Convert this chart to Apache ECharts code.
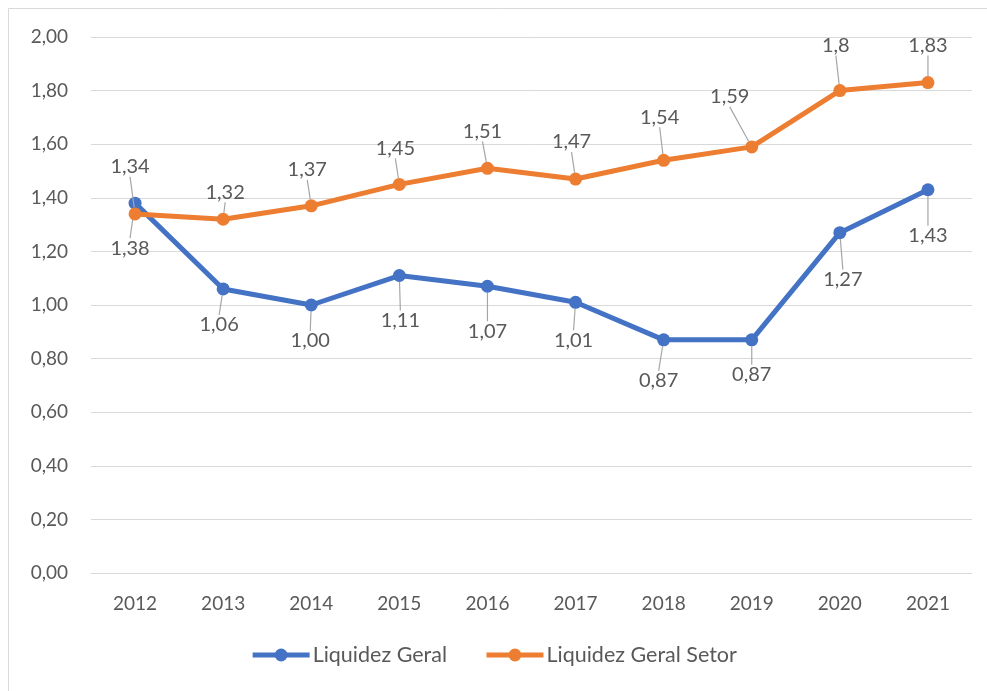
<!DOCTYPE html>
<html>
<head>
<meta charset="utf-8">
<script src="https://cdn.jsdelivr.net/npm/echarts@6/dist/echarts.min.js"></script>
<style>
html,body{margin:0;padding:0;background:#fff;}
#c{width:987px;height:691px;}
</style>
</head>
<body>
<div id="c"></div>
<script>
var categories = ['2012','2013','2014','2015','2016','2017','2018','2019','2020','2021'];
var liquidezGeral = [1.38, 1.06, 1.00, 1.11, 1.07, 1.01, 0.87, 0.87, 1.27, 1.43];
var liquidezGeralSetor = [1.34, 1.32, 1.37, 1.45, 1.51, 1.47, 1.54, 1.59, 1.8, 1.83];
var seriesNames = ['Liquidez Geral', 'Liquidez Geral Setor'];

// label offsets (styling only)
var blueLabelOffsets = [[-5,45],[-4,36],[-1,36],[1,45],[0,45],[-2,38],[-5,41],[0,35],[3,47],[0,46]];
var orangeLabelOffsets = [[-5,-47],[2,-27],[-4,-36],[-4,-36],[-5,-37],[-4,-37],[-4,-43],[-22,-50],[-4,-45],[0,-37]];

var FONT = 'Lato';
var TXT = '#595959';

var chart = echarts.init(document.getElementById('c'), null, {renderer:'canvas'});

function fmtComma(v, fixed){
  return fixed ? v.toFixed(2).replace('.', ',') : String(v).replace('.', ',');
}

chart.setOption({
  animation:false,
  textStyle:{fontFamily:FONT},
  graphic:[{
    type:'rect', shape:{x:8.5,y:8.5,width:1000,height:700},
    style:{fill:'none', stroke:'#d9d9d9', lineWidth:1}, silent:true
  }],
  grid:{left:91, right:15, top:37, bottom:118, containLabel:false},
  legend:{
    bottom:20, left:'center',
    itemWidth:57, itemHeight:16, itemGap:37,
    lineStyle:{width:5},
    textStyle:{color:TXT, fontSize:21.5, fontFamily:FONT, padding:[0,0,0,-2]},
    data:seriesNames
  },
  xAxis:{
    type:'category', data:categories, boundaryGap:true,
    axisLine:{show:true, lineStyle:{color:'#d9d9d9', width:1}},
    axisTick:{show:false},
    axisLabel:{color:TXT, fontSize:19, margin:21, fontFamily:FONT}
  },
  yAxis:{
    type:'value', min:0, max:2, interval:0.2,
    axisLine:{show:false}, axisTick:{show:false},
    splitLine:{lineStyle:{color:'#d9d9d9', width:1}},
    axisLabel:{color:TXT, fontSize:19, margin:23, fontFamily:FONT,
      formatter:function(v){return v.toFixed(2).replace('.', ',');}}
  },
  series:[
    {
      name:seriesNames[0], type:'line', data:liquidezGeral,
      symbol:'circle', symbolSize:13,
      lineStyle:{color:'#4472C4', width:5},
      itemStyle:{color:'#4472C4'},
      label:{show:true, position:'inside', color:TXT, fontSize:20, fontFamily:FONT,
        formatter:function(p){return fmtComma(p.value, true);}},
      labelLine:{show:true, lineStyle:{color:'#a6a6a6', width:1.2}},
      labelLayout:function(p){var o=blueLabelOffsets[p.dataIndex]; return {dx:o[0], dy:o[1]};},
      z:3
    },
    {
      name:seriesNames[1], type:'line', data:liquidezGeralSetor,
      symbol:'circle', symbolSize:13,
      lineStyle:{color:'#ED7D31', width:5},
      itemStyle:{color:'#ED7D31'},
      label:{show:true, position:'inside', color:TXT, fontSize:20, fontFamily:FONT,
        formatter:function(p){return fmtComma(p.value, false);}},
      labelLine:{show:true, lineStyle:{color:'#a6a6a6', width:1.2}},
      labelLayout:function(p){var o=orangeLabelOffsets[p.dataIndex]; return {dx:o[0], dy:o[1]};},
      z:4
    }
  ]
});
</script>
</body>
</html>
